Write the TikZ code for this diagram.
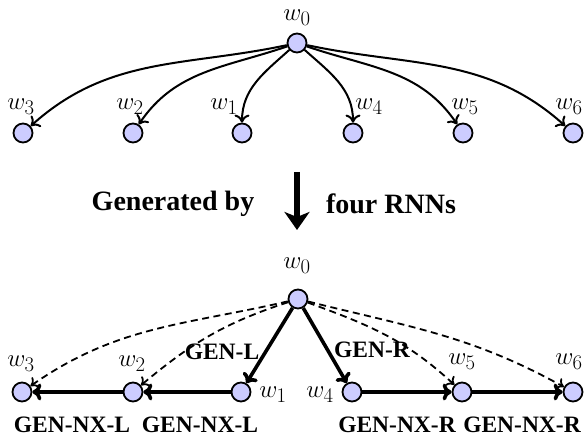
\documentclass[tikz,border=0pt]{standalone}
\usepackage{fontspec}
\newfontfamily\timesfont{Liberation Serif}
\usetikzlibrary{arrows.meta}
\tikzset{
  word/.style={circle, draw, line width=1.8pt, fill=blue!20, minimum size=19pt, inner sep=0pt},
  lab/.style={font=\fontsize{30}{32}\selectfont, inner sep=0pt},
  gen/.style={font=\timesfont\bfseries\fontsize{23.5}{26}\selectfont, inner sep=0pt},
  big/.style={font=\timesfont\bfseries\fontsize{28}{30}\selectfont, inner sep=0pt},
  thinarrow/.style={line width=2pt, -{To[length=8pt,width=15pt,line width=2pt]}},
  dasharrow/.style={line width=1.8pt, dash pattern=on 7pt off 4.5pt, -{To[length=7pt,width=13pt]}},
  thickarrow/.style={line width=3.6pt, -{To[length=9pt,width=17pt]}},
}
\begin{document}
\begin{tikzpicture}[x=1pt,y=-1pt]
\useasboundingbox (0,0) rectangle (587,441);
% ---------- top tree ----------
\node[word] (t0) at (297,43) {};
\node[word] (t3) at (23,133) {};
\node[word] (t2) at (133,133) {};
\node[word] (t1) at (242,133) {};
\node[word] (t4) at (353,133) {};
\node[word] (t5) at (463,133) {};
\node[word] (t6) at (573,133) {};
\node[lab] (lt0) at (297,18) {$w_0$};
\node[lab] (lt3) at (21,107) {$w_3$};
\node[lab] (lt2) at (130,107) {$w_2$};
\node[lab] (lt1) at (224,107) {$w_1$};
\node[lab] (lt4) at (369,107) {$w_4$};
\node[lab] (lt5) at (465,107) {$w_5$};
\node[lab] (lt6) at (569,107) {$w_6$};
\draw[thinarrow] (t0) to[out=192,in=42] (t3);
\draw[thinarrow] (t0) to[out=199,in=56] (t2);
\draw[thinarrow] (t0) to[out=222,in=90] (t1);
\draw[thinarrow] (t0) to[out=-42,in=90] (t4);
\draw[thinarrow] (t0) to[out=-19,in=124] (t5);
\draw[thinarrow] (t0) to[out=-12,in=138] (t6);
% ---------- middle ----------
\coordinate (as) at (297,172);
\coordinate (ae) at (297,230);
\draw[line width=5.5pt, -{Stealth[length=18pt,width=25pt,inset=5pt]}] (as) -- (ae);
\node[big] (gb) at (173,204) {Generated by};
\node[big] (fr) at (391,204) {four RNNs};
% ---------- bottom tree ----------
\node[word] (b0) at (298,299) {};
\node[word] (b3) at (22,392) {};
\node[word] (b2) at (133,392) {};
\node[word] (b1) at (241,392) {};
\node[word] (b4) at (352,392) {};
\node[word] (b5) at (462,392) {};
\node[word] (b6) at (573,392) {};
\node[lab] (lb0) at (297,266) {$w_0$};
\node[lab] (lb3) at (21,364) {$w_3$};
\node[lab] (lb2) at (132,364) {$w_2$};
\node[lab] (lb1) at (273,395) {$w_1$};
\node[lab] (lb4) at (320,395) {$w_4$};
\node[lab] (lb5) at (462,362) {$w_5$};
\node[lab] (lb6) at (569,362) {$w_6$};
\draw[dasharrow] (b0) to[out=193,in=35] (b3);
\draw[dasharrow] (b0) to[out=198,in=40] (b2);
\draw[dasharrow] (b0) to[out=-20,in=137] (b5);
\draw[dasharrow] (b0) to[out=-14,in=151] (b6);
\draw[thickarrow] (b0) -- (b1);
\draw[thickarrow] (b0) -- (b4);
\draw[thickarrow] (b1) -- (b2);
\draw[thickarrow] (b2) -- (b3);
\draw[thickarrow] (b4) -- (b5);
\draw[thickarrow] (b5) -- (b6);
\node[gen] (gl) at (222,352) {GEN-L};
\node[gen] (gr) at (372,350) {GEN-R};
\node[gen] (nl1) at (72,425) {GEN-NX-L};
\node[gen] (nl2) at (200,425) {GEN-NX-L};
\node[gen] (nr1) at (397,425) {GEN-NX-R};
\node[gen] (nr2) at (522,425) {GEN-NX-R};
\end{tikzpicture}
\end{document}
